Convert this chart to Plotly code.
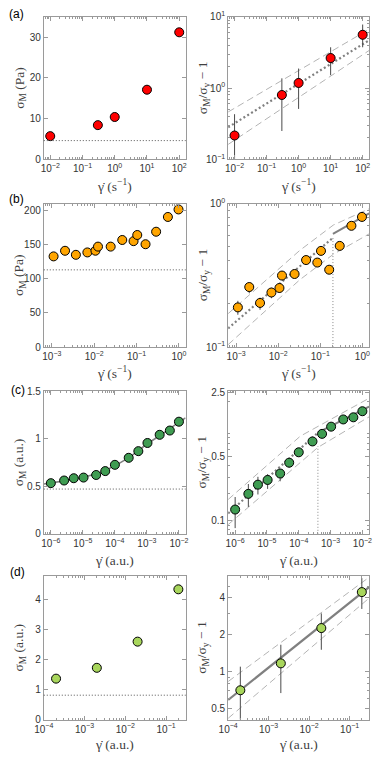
import math
import plotly.graph_objects as go

# ---------------- data ----------------
# (a)
a_rate = [0.01, 0.3, 1.0, 10.0, 100.0]
a_sigmaM = [5.7, 8.4, 10.4, 17.1, 31.2]
a_sigmaY = 4.6
a_ratio = [0.216, 0.80, 1.18, 2.64, 5.6]
a_ratio_hi = [0.43, 1.37, 1.88, 3.74, 7.8]
a_ratio_lo = [0.05, 0.25, 0.51, 1.52, 3.74]
a_fit_x = [0.00631, 158.5]
a_fit_y = [0.282, 4.68]
a_band_hi = [0.462, 6.7]
a_band_lo = [0.162, 3.37]

# (b)
b_rate = [0.0011, 0.00205, 0.0037, 0.0069, 0.0107, 0.0123, 0.0245, 0.046,
          0.085, 0.104, 0.163, 0.29, 0.55, 0.98]
b_sigmaM = [132.7, 140.9, 135, 138.5, 141, 147, 147, 156.7, 155, 164, 150.5,
            168.8, 190.4, 201.4]
b_sigmaY = 113
b_ratio = [0.189, 0.262, 0.203, 0.240, 0.258, 0.315, 0.323, 0.404, 0.388,
           0.468, 0.346, 0.507, 0.700, 0.807]
b_ratio_hi = [0.210, 0.281, 0.221, 0.259, 0.278, 0.335, 0.343, 0.42, 0.40,
              0.48, 0.36, 0.52, 0.715, 0.82]
b_ratio_lo = [0.168, 0.237, 0.182, 0.219, 0.238, 0.295, 0.303, 0.39, 0.375,
              0.455, 0.333, 0.495, 0.685, 0.795]
b_fit1_x = [0.000646, 0.2]
b_fit1_y = [0.135, 0.578]
b_fit2_x = [0.2, 1.45]
b_fit2_y = [0.615, 0.855]
b_cross = 0.2
b_cross_top = 0.578
b_band_x = [0.000646, 0.0324, 0.204, 1.45]
b_band_hi = [0.171, 0.471, 0.708, 0.92]
b_band_lo = [0.104, 0.294, 0.443, 0.615]

# (c)
c_rate = [1e-6, 2.6e-6, 5.2e-6, 1.05e-5, 2.6e-5, 5e-5, 1e-4, 2.7e-4, 5.4e-4,
          1.04e-3, 2.5e-3, 5.2e-3, 1e-2]
c_sigmaM = [0.533, 0.561, 0.585, 0.592, 0.619, 0.660, 0.726, 0.80, 0.87,
            0.956, 1.042, 1.087, 1.18]
c_sigmaY = 0.471
c_curve_x = [6e-7, 1e-6, 3e-6, 1e-5, 3e-5, 1e-4, 3e-4, 1e-3, 3e-3, 1e-2, 1.6e-2]
c_curve_y = [0.525, 0.535, 0.56, 0.595, 0.635, 0.715, 0.81, 0.945, 1.05, 1.175, 1.22]
c_ratio = [0.133, 0.197, 0.248, 0.279, 0.328, 0.430, 0.558, 0.732, 0.885,
           1.06, 1.27, 1.34, 1.56]
c_ratio_hi = [0.182, 0.252, 0.302, 0.323, 0.365, 0.478, 0.622, 0.78, 0.93,
              1.11, 1.32, 1.39, 1.61]
c_ratio_lo = [0.0835, 0.142, 0.194, 0.223, 0.270, 0.380, 0.507, 0.69, 0.84,
              1.01, 1.22, 1.29, 1.51]
c_fit1_x = [6.03e-7, 4e-4]
c_fit1_y = [0.121, 0.91]
c_fit2_x = [4e-4, 0.0162]
c_fit2_y = [0.914, 1.75]
c_cross = 4e-4
c_cross_top = 0.65
c_bandhi_x = [6.03e-7, 1.12e-4, 0.0162]
c_band_hi = [0.171, 0.836, 2.16]
c_bandlo_x = [6.03e-7, 4e-4, 0.0162]
c_band_lo = [0.0912, 0.631, 1.355]

# (d)
d_rate = [2e-4, 2e-3, 2e-2, 2e-1]
d_sigmaM = [1.36, 1.72, 2.59, 4.33]
d_sigmaY = 0.81
d_ratio = [0.706, 1.17, 2.27, 4.46]
d_ratio_hi = [1.10, 1.66, 2.99, 5.8]
d_ratio_lo = [0.30, 0.67, 1.51, 3.25]
d_fit_x = [1e-4, 0.302]
d_fit_y = [0.589, 4.9]
d_band_hi = [0.832, 5.89]
d_band_lo = [0.417, 3.98]

# tick labels
a_xticks = [0.01, 0.1, 1, 10, 100]
a_xtext = ["10<sup>−2</sup>", "10<sup>−1</sup>", "10<sup>0</sup>", "10<sup>1</sup>", "10<sup>2</sup>"]
b_xticks = [1e-3, 1e-2, 1e-1, 1]
b_xtext = ["10<sup>−3</sup>", "10<sup>−2</sup>", "10<sup>−1</sup>", "10<sup>0</sup>"]
c_xticks = [1e-6, 1e-5, 1e-4, 1e-3, 1e-2]
c_xtext = ["10<sup>−6</sup>", "10<sup>−5</sup>", "10<sup>−4</sup>", "10<sup>−3</sup>", "10<sup>−2</sup>"]
d_xticks = [1e-4, 1e-3, 1e-2, 1e-1]
d_xtext = ["10<sup>−4</sup>", "10<sup>−3</sup>", "10<sup>−2</sup>", "10<sup>−1</sup>"]
a_yticks_r = [0.1, 1, 10]
a_ytext_r = ["10<sup>−1</sup>", "10<sup>0</sup>", "10<sup>1</sup>"]
b_yticks_r = [0.1, 1]
b_ytext_r = ["10<sup>−1</sup>", "10<sup>0</sup>"]
c_yticks_r = [0.1, 0.5, 2.5]
c_ytext_r = ["0.1", "0.5", "2.5"]
d_yticks_r = [0.5, 1, 2, 4]
d_ytext_r = ["0.5", "1", "2", "4"]

colors = {"a": "#ff0000", "b": "#ffa500", "c": "#3f9c52", "d": "#a8d65c"}

# ---------------- layout helpers ----------------
W, H = 374, 758
FRAME = "#9a9a9a"
TICKFONT = dict(family="Liberation Sans, Arial, sans-serif", size=10, color="#333333")
TITLEFONT = dict(family="Liberation Serif, DejaVu Serif, serif", size=13.5, color="#404040")

xl = [35 / W, 182 / W]
xr = [226 / W, 372 / W]
rows_px = [(10, 155), (200, 346), (391, 536), (579, 725)]


def ydom(t, b):
    return [1 - b / H, 1 - t / H]


def minor_vals(lo, hi):
    vals = []
    for k in range(int(math.floor(lo)) - 1, int(math.ceil(hi)) + 1):
        for m in range(2, 10):
            v = m * 10 ** k
            if lo <= math.log10(v) <= hi:
                vals.append(v)
    return vals


def base_axis():
    return dict(showline=True, mirror="ticks", linecolor=FRAME, linewidth=1,
                ticks="inside", ticklen=4, tickcolor=FRAME, showgrid=False,
                zeroline=False, tickfont=TICKFONT, fixedrange=True)


def log_axis(rng, tv, tt):
    d = base_axis()
    d.update(type="log", range=rng, tickmode="array", tickvals=tv, ticktext=tt,
             minor=dict(tickmode="array", tickvals=minor_vals(rng[0], rng[1]),
                        ticks="inside", ticklen=2, tickcolor=FRAME, showgrid=False))
    return d


def lin_axis(rng, dtick):
    d = base_axis()
    d.update(range=rng, dtick=dtick, tick0=0)
    return d


fig = go.Figure()
layout = dict(width=W, height=H, margin=dict(l=0, r=0, t=0, b=0),
              paper_bgcolor="white", plot_bgcolor="white", showlegend=False)

rows = [
    dict(key="a", xr=[-2.2, 2.2], xt=(a_xticks, a_xtext), yl=[0, 35], yld=10,
         yr=[-1, 1], yrt=(a_yticks_r, a_ytext_r)),
    dict(key="b", xr=[-3.19, 0.16], xt=(b_xticks, b_xtext), yl=[0, 210], yld=50,
         yr=[-1, 0], yrt=(b_yticks_r, b_ytext_r)),
    dict(key="c", xr=[-6.22, -1.79], xt=(c_xticks, c_xtext), yl=[0, 1.5], yld=0.5,
         yr=[-1.14, 0.41], yrt=(c_yticks_r, c_ytext_r)),
    dict(key="d", xr=[-4, -0.52], xt=(d_xticks, d_xtext), yl=[0, 4.77], yld=1,
         yr=[-0.39, 0.78], yrt=(d_yticks_r, d_ytext_r)),
]

for i, r in enumerate(rows):
    nl, nr = 2 * i + 1, 2 * i + 2
    sl = "" if nl == 1 else str(nl)
    sr = str(nr)
    yd = ydom(*rows_px[i])
    ax = log_axis(r["xr"], *r["xt"]); ax.update(domain=xl, anchor="y" + sl)
    layout["xaxis" + sl] = ax
    ay = lin_axis(r["yl"], r["yld"]); ay.update(domain=yd, anchor="x" + sl)
    layout["yaxis" + sl] = ay
    ax2 = log_axis(r["xr"], *r["xt"]); ax2.update(domain=xr, anchor="y" + sr)
    layout["xaxis" + sr] = ax2
    ay2 = log_axis(r["yr"], *r["yrt"]); ay2.update(domain=yd, anchor="x" + sr)
    layout["yaxis" + sr] = ay2

fig.update_layout(**layout)

GRAY = "#808080"
BAND = "#b4b4b4"
ERR = "#4a4a4a"


def line(x, y, xa, ya, dash="solid", color=GRAY, width=2):
    fig.add_trace(go.Scatter(x=x, y=y, mode="lines", xaxis=xa, yaxis=ya,
                             line=dict(color=color, width=width, dash=dash),
                             hoverinfo="skip"))


def pts(x, y, xa, ya, col, hi=None, lo=None):
    err = None
    if hi is not None:
        err = dict(type="data", symmetric=False,
                   array=[h - v for h, v in zip(hi, y)],
                   arrayminus=[v - l for v, l in zip(y, lo)],
                   color=ERR, thickness=1, width=0)
    fig.add_trace(go.Scatter(x=x, y=y, mode="markers", xaxis=xa, yaxis=ya,
                             error_y=err,
                             marker=dict(size=9, color=col,
                                         line=dict(color="black", width=1))))


def hline(y, n):
    s = "" if n == 1 else str(n)
    fig.add_shape(type="line", xref="x" + s + " domain", yref="y" + s,
                  x0=0, x1=1, y0=y, y1=y,
                  line=dict(color="#555555", width=1, dash="1px,2px"))


DOT = "2px,2.5px"
DASH = "7px,4px"
VDOT = "1px,2px"

# ---- (a)
hline(a_sigmaY, 1)
pts(a_rate, a_sigmaM, "x", "y", colors["a"])
line(a_fit_x, a_band_hi, "x2", "y2", DASH, BAND, 1)
line(a_fit_x, a_band_lo, "x2", "y2", DASH, BAND, 1)
line(a_fit_x, a_fit_y, "x2", "y2", DOT, GRAY, 2.2)
pts(a_rate, a_ratio, "x2", "y2", colors["a"], a_ratio_hi, a_ratio_lo)

# ---- (b)
hline(b_sigmaY, 3)
pts(b_rate, b_sigmaM, "x3", "y3", colors["b"])
line(b_band_x, b_band_hi, "x4", "y4", DASH, BAND, 1)
line(b_band_x, b_band_lo, "x4", "y4", DASH, BAND, 1)
line([b_cross, b_cross], [10 ** rows[1]["yr"][0], b_cross_top], "x4", "y4", VDOT, "#888888", 1)
line(b_fit1_x, b_fit1_y, "x4", "y4", DOT, GRAY, 2.2)
line(b_fit2_x, b_fit2_y, "x4", "y4", "solid", GRAY, 2)
pts(b_rate, b_ratio, "x4", "y4", colors["b"], b_ratio_hi, b_ratio_lo)

# ---- (c)
hline(c_sigmaY, 5)
line(c_curve_x, c_curve_y, "x5", "y5", "solid", GRAY, 1.6)
pts(c_rate, c_sigmaM, "x5", "y5", colors["c"])
line(c_bandhi_x, c_band_hi, "x6", "y6", DASH, BAND, 1)
line(c_bandlo_x, c_band_lo, "x6", "y6", DASH, BAND, 1)
line([c_cross, c_cross], [10 ** rows[2]["yr"][0], c_cross_top], "x6", "y6", VDOT, "#888888", 1)
line(c_fit1_x, c_fit1_y, "x6", "y6", DOT, GRAY, 2.2)
line(c_fit2_x, c_fit2_y, "x6", "y6", "solid", GRAY, 2)
pts(c_rate, c_ratio, "x6", "y6", colors["c"], c_ratio_hi, c_ratio_lo)

# ---- (d)
hline(d_sigmaY, 7)
pts(d_rate, d_sigmaM, "x7", "y7", colors["d"])
line(d_fit_x, d_band_hi, "x8", "y8", DASH, BAND, 1)
line(d_fit_x, d_band_lo, "x8", "y8", DASH, BAND, 1)
line(d_fit_x, d_fit_y, "x8", "y8", "solid", GRAY, 2.2)
pts(d_rate, d_ratio, "x8", "y8", colors["d"], d_ratio_hi, d_ratio_lo)

# ---------------- text ----------------
ann = []
panel_labels = ["(a)", "(b)", "(c)", "(d)"]
label_px = [(7, 7), (7, 195), (8, 390), (8, 575)]
yunits = ["(Pa)", "(Pa)", "(a.u.)", "(a.u.)"]
xunits = ["(s<sup>−1</sup>)", "(s<sup>−1</sup>)", "(a.u.)", "(a.u.)"]
xtitle_px = [182, 372, 563, 750]
common = dict(xref="paper", yref="paper", showarrow=False, xanchor="center", yanchor="middle")
for i in range(4):
    t, b = rows_px[i]
    yc = 1 - ((t + b) / 2) / H
    ann.append(dict(text=panel_labels[i], x=label_px[i][0] / W, y=1 - label_px[i][1] / H,
                    font=dict(family="Liberation Sans, Arial, sans-serif", size=12, color="black"),
                    **common))
    ann.append(dict(text="σ<sub>M</sub> " + yunits[i], x=10 / W, y=yc, textangle=-90,
                    font=TITLEFONT, **common))
    ann.append(dict(text="σ<sub>M</sub>/σ<sub>y</sub> − 1", x=200 / W, y=yc, textangle=-90,
                    font=TITLEFONT, **common))
    for xc in (108.5, 299):
        ann.append(dict(text="γ̇ " + xunits[i], x=xc / W, y=1 - xtitle_px[i] / H,
                        font=TITLEFONT, **common))
fig.update_layout(annotations=ann)

fig.write_html("out.html", config={"displayModeBar": False},
               post_script="document.body.style.margin='0px';document.body.style.overflow='hidden';")
